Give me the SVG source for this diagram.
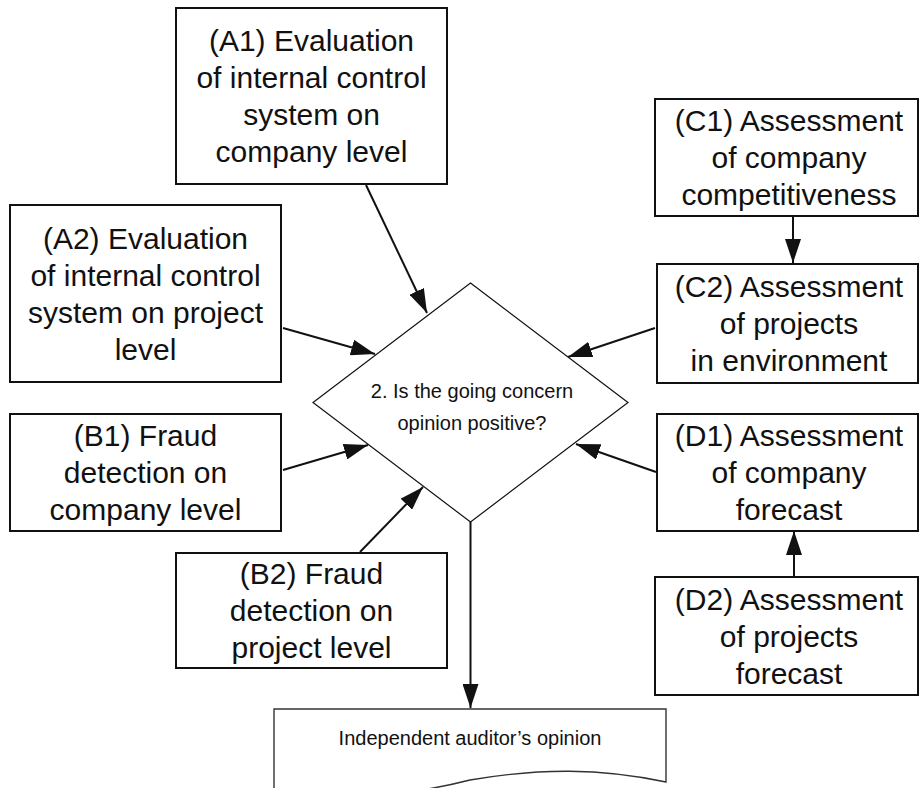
<svg xmlns="http://www.w3.org/2000/svg" width="920" height="788" viewBox="0 0 920 788">
  <style>
    .box { fill: #ffffff; stroke: #111111; stroke-width: 2; }
    .dia { fill: #ffffff; stroke: #111111; stroke-width: 1.2; }
    .doc { fill: #ffffff; stroke: #333333; stroke-width: 1.4; }
    .lbl { font-family: "Liberation Sans", Arial, sans-serif; font-size: 30px; fill: #111111; text-anchor: middle; }
    .small { font-family: "Liberation Sans", Arial, sans-serif; font-size: 20px; fill: #111111; text-anchor: middle; }
    .conn { stroke: #111111; stroke-width: 2; fill: none; marker-end: url(#arrow); }
  </style>
  <defs>
    <marker id="arrow" markerUnits="userSpaceOnUse" markerWidth="24" markerHeight="16" refX="24" refY="8" orient="auto">
      <path d="M0,0 L24,8 L0,16 Z" fill="#111111"/>
    </marker>
  </defs>

  <rect width="920" height="788" fill="#ffffff"/>

  <!-- connectors -->
  <g id="connectors">
    <line class="conn" x1="366" y1="185" x2="427" y2="313"/>
    <line class="conn" x1="283" y1="328" x2="375" y2="354"/>
    <line class="conn" x1="283" y1="470" x2="368" y2="445"/>
    <line class="conn" x1="360" y1="552" x2="423" y2="487"/>
    <line class="conn" x1="655" y1="328" x2="568" y2="357"/>
    <line class="conn" x1="656" y1="472" x2="576" y2="444"/>
    <line class="conn" x1="470.5" y1="522" x2="470.5" y2="708"/>
    <line class="conn" x1="793" y1="216" x2="793" y2="263"/>
    <line class="conn" x1="794" y1="577" x2="794" y2="531"/>
  </g>

  <!-- decision -->
  <g id="decision">
    <polygon class="dia" points="470.5,283 628,402.5 470.5,522 313,402.5"/>
    <text class="small" x="472" y="398">2. Is the going concern</text>
    <text class="small" x="472" y="430">opinion positive?</text>
  </g>

  <g id="A1">
    <rect class="box" x="176" y="8" width="271" height="176"/>
    <text class="lbl"><tspan x="311.5" y="51">(A1) Evaluation</tspan><tspan x="311.5" y="88">of internal control</tspan><tspan x="311.5" y="125">system on</tspan><tspan x="311.5" y="162">company level</tspan></text>
  </g>

  <g id="A2">
    <rect class="box" x="10" y="205" width="271" height="177"/>
    <text class="lbl"><tspan x="145.5" y="248.5">(A2) Evaluation</tspan><tspan x="145.5" y="285.5">of internal control</tspan><tspan x="145.5" y="322.5">system on project</tspan><tspan x="145.5" y="359.5">level</tspan></text>
  </g>

  <g id="B1">
    <rect class="box" x="10" y="414" width="271" height="117"/>
    <text class="lbl"><tspan x="145.5" y="446">(B1) Fraud</tspan><tspan x="145.5" y="483">detection on</tspan><tspan x="145.5" y="520">company level</tspan></text>
  </g>

  <g id="B2">
    <rect class="box" x="176" y="553" width="271" height="115"/>
    <text class="lbl"><tspan x="311.5" y="584">(B2) Fraud</tspan><tspan x="311.5" y="621">detection on</tspan><tspan x="311.5" y="658">project level</tspan></text>
  </g>

  <g id="C1">
    <rect class="box" x="655" y="99" width="263" height="117"/>
    <text class="lbl"><tspan x="789" y="131">(C1) Assessment</tspan><tspan x="789" y="168">of company</tspan><tspan x="789" y="205">competitiveness</tspan></text>
  </g>

  <g id="C2">
    <rect class="box" x="657" y="264" width="261" height="119"/>
    <text class="lbl"><tspan x="789" y="297">(C2) Assessment</tspan><tspan x="789" y="334">of projects</tspan><tspan x="789" y="371">in environment</tspan></text>
  </g>

  <g id="D1">
    <rect class="box" x="657" y="414" width="261" height="117"/>
    <text class="lbl"><tspan x="789" y="446">(D1) Assessment</tspan><tspan x="789" y="483">of company</tspan><tspan x="789" y="520">forecast</tspan></text>
  </g>

  <g id="D2">
    <rect class="box" x="655" y="577" width="263" height="118"/>
    <text class="lbl"><tspan x="789" y="609.5">(D2) Assessment</tspan><tspan x="789" y="646.5">of projects</tspan><tspan x="789" y="683.5">forecast</tspan></text>
  </g>

  <!-- document output with wavy bottom edge -->
  <g id="opinion">
    <path class="doc" d="M274,709 H666 V782 C600,768 540,768 470,780 C400,798 330,800 274,792 Z"/>
    <text class="small" x="470" y="745">Independent auditor’s opinion</text>
  </g>
</svg>
